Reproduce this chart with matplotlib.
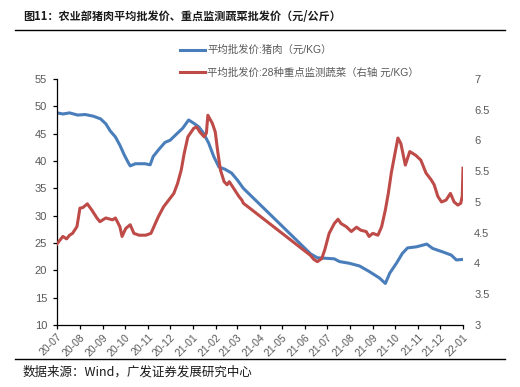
import matplotlib.pyplot as plt
import pandas as pd

plt.rcParams['font.family'] = ['Liberation Sans', 'Noto Sans CJK SC', 'DejaVu Sans']

# pork wholesale price, yuan/kg (left axis)
pork_dates = ['2020-07-01', '2020-07-09', '2020-07-18', '2020-07-29', '2020-08-08', '2020-08-19',
              '2020-08-29', '2020-09-05', '2020-09-11', '2020-09-18', '2020-09-24', '2020-09-30',
              '2020-10-05', '2020-10-08', '2020-10-15', '2020-10-28', '2020-11-04', '2020-11-08',
              '2020-11-15', '2020-11-24', '2020-12-01', '2020-12-11', '2020-12-18', '2020-12-26',
              '2021-01-02', '2021-01-09', '2021-01-15', '2021-01-22', '2021-01-29', '2021-02-05',
              '2021-02-13', '2021-02-22', '2021-03-02', '2021-03-10',
              '2021-06-09', '2021-06-18', '2021-06-30', '2021-07-11', '2021-07-18', '2021-07-31',
              '2021-08-14', '2021-08-27', '2021-09-10', '2021-09-18', '2021-09-24', '2021-10-03',
              '2021-10-11', '2021-10-18', '2021-10-30', '2021-11-13', '2021-11-21', '2021-12-04',
              '2021-12-16', '2021-12-23', '2022-01-01']
pork_vals = [48.8, 48.6, 48.8, 48.4, 48.5, 48.2,
             47.7, 46.8, 45.5, 44.4, 42.9, 41.1,
             39.8, 39.1, 39.5, 39.5, 39.3, 40.8,
             42.0, 43.4, 43.8, 45.1, 46.0, 47.5,
             46.9, 46.2, 45.1, 43.3, 40.8, 38.9,
             38.5, 37.8, 36.5, 35.0,
             23.0, 22.3, 22.2, 22.1, 21.6, 21.3,
             20.8, 19.8, 18.6, 17.6, 19.5, 21.3,
             23.1, 24.1, 24.3, 24.8, 24.0, 23.4,
             22.8, 21.9, 22.0]

# 28 key vegetables wholesale price, yuan/kg (right axis)
veg_dates = ['2020-07-01', '2020-07-09', '2020-07-14', '2020-07-18', '2020-07-22', '2020-07-28',
             '2020-08-01', '2020-08-05', '2020-08-11', '2020-08-17', '2020-08-24', '2020-08-28',
             '2020-09-05', '2020-09-14', '2020-09-18', '2020-09-24', '2020-09-27', '2020-10-02',
             '2020-10-08', '2020-10-13', '2020-10-20', '2020-10-29', '2020-11-05', '2020-11-08',
             '2020-11-15', '2020-11-22', '2020-11-29', '2020-12-06', '2020-12-11', '2020-12-16',
             '2020-12-20', '2020-12-25', '2021-01-02', '2021-01-06', '2021-01-10', '2021-01-16',
             '2021-01-19', '2021-01-21', '2021-01-27', '2021-01-31', '2021-02-03', '2021-02-07',
             '2021-02-12', '2021-02-16', '2021-02-19', '2021-02-25', '2021-03-04', '2021-03-08',
             '2021-03-10',
             '2021-06-09', '2021-06-13', '2021-06-18', '2021-06-24', '2021-06-28', '2021-07-04',
             '2021-07-11', '2021-07-16', '2021-07-20', '2021-07-27', '2021-08-03', '2021-08-10',
             '2021-08-16', '2021-08-23', '2021-08-27', '2021-09-01', '2021-09-08', '2021-09-13',
             '2021-09-18', '2021-09-22', '2021-09-26', '2021-10-01', '2021-10-05', '2021-10-09',
             '2021-10-15', '2021-10-21', '2021-10-29', '2021-11-05', '2021-11-12', '2021-11-19',
             '2021-11-23', '2021-11-28', '2021-12-03', '2021-12-09', '2021-12-15', '2021-12-20',
             '2021-12-25', '2021-12-29', '2021-12-31', '2022-01-01']
veg_vals = [4.32, 4.44, 4.40, 4.46, 4.49, 4.60,
            4.90, 4.91, 4.97, 4.87, 4.74, 4.68,
            4.74, 4.71, 4.74, 4.60, 4.44, 4.57,
            4.63, 4.49, 4.46, 4.46, 4.49, 4.57,
            4.76, 4.92, 5.03, 5.14, 5.30, 5.52,
            5.79, 6.06, 6.20, 6.22, 6.14, 6.06,
            6.12, 6.41, 6.28, 6.14, 5.85, 5.52,
            5.33, 5.28, 5.33, 5.22, 5.09, 5.03,
            4.98,
            4.13, 4.07, 4.03, 4.08, 4.22, 4.49,
            4.65, 4.72, 4.65, 4.60, 4.52, 4.59,
            4.54, 4.52, 4.44, 4.49, 4.46, 4.60,
            4.87, 5.14, 5.47, 5.79, 6.04, 5.95,
            5.60, 5.82, 5.76, 5.68, 5.47, 5.36,
            5.28, 5.09, 5.00, 5.03, 5.14, 5.00,
            4.95, 4.98, 5.10, 5.55]

month_labels = ['20-07', '20-08', '20-09', '20-10', '20-11', '20-12', '21-01', '21-02', '21-03',
                '21-04', '21-05', '21-06', '21-07', '21-08', '21-09', '21-10', '21-11', '21-12', '22-01']

pork_label = '平均批发价:猪肉（元/KG）'
veg_label = '平均批发价:28种重点监测蔬菜（右轴 元/KG）'

blue = '#4a7ebb'
red = '#be4b48'
grey = '#595959'

fig = plt.figure(figsize=(5.2, 3.87), dpi=100)
ax = fig.add_axes([0.1096, 0.1602, 0.7808, 0.6357])
ax2 = ax.twinx()

l1, = ax.plot(pd.to_datetime(pork_dates), pork_vals, color=blue, lw=2.2, label=pork_label)
l2, = ax2.plot(pd.to_datetime(veg_dates), veg_vals, color=red, lw=2.2, label=veg_label)

ax.set_ylim(10, 55)
ax.set_yticks(range(10, 56, 5))
ax2.set_ylim(3, 7)
ax2.set_yticks([3, 3.5, 4, 4.5, 5, 5.5, 6, 6.5, 7])
ax2.set_yticklabels(['3', '3.5', '4', '4.5', '5', '5.5', '6', '6.5', '7'])

ticks = pd.date_range('2020-07-01', '2022-01-01', freq='MS')
ax.set_xlim(ticks[0], ticks[-1])
ax.set_xticks(ticks)
ax.set_xticklabels(month_labels, rotation=45, ha='right', rotation_mode='anchor')

for a in (ax, ax2):
    for s in a.spines.values():
        s.set_visible(False)
ax.spines['left'].set_visible(True)
ax.spines['bottom'].set_visible(True)
ax.spines['left'].set_linewidth(0.9)
ax.spines['bottom'].set_linewidth(0.9)

ax.tick_params(axis='y', direction='out', length=3, width=0.9, pad=4, labelsize=8, labelcolor=grey)
ax.tick_params(axis='x', direction='out', length=3, width=0.9, pad=2, labelsize=7.5, labelcolor=grey)
ax2.tick_params(axis='y', length=0, pad=8, labelsize=8, labelcolor=grey)

fig.legend(handles=[l1, l2], loc='upper left', bbox_to_anchor=(180 / 520, 1 - 45 / 387),
           frameon=False, fontsize=7.5, labelcolor=grey, handlelength=2.4, handletextpad=0.2,
           labelspacing=1.2, borderpad=0, borderaxespad=0)

# title and source, with header / footer rules
fig.text(23 / 520, 1 - 16 / 387, '图11：农业部猪肉平均批发价、重点监测蔬菜批发价（元/公斤）',
         fontsize=8, fontweight='bold', va='center', ha='left', color='#1a1a1a',
         family=['Noto Sans CJK SC', 'DejaVu Sans'])
fig.text(23 / 520, 1 - 372 / 387, '数据来源：Wind，广发证券发展研究中心',
         fontsize=9, va='center', ha='left', color='#1a1a1a',
         family=['Noto Sans CJK SC', 'DejaVu Sans'])
fig.add_artist(plt.Line2D([15 / 520, 505 / 520], [1 - 30 / 387, 1 - 30 / 387], color='black', lw=1))
fig.add_artist(plt.Line2D([15 / 520, 505 / 520], [1 - 359 / 387, 1 - 359 / 387], color='black', lw=1))

fig.savefig('out.png', dpi=100)
